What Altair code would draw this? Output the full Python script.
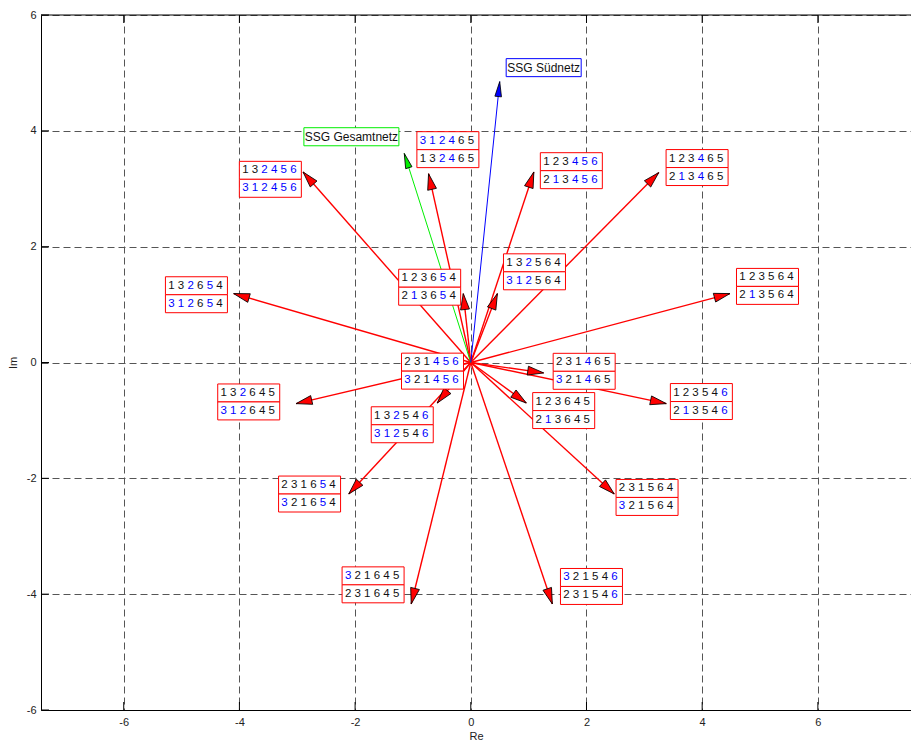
import altair as alt
import numpy as np
import pandas as pd

# Permutation pairs shown next to each arrow (upper box / lower box)
perm_upper = ["132456", "312465", "132654", "123654", "123456", "123465",
              "231456", "132645", "132546", "132564", "231465", "123645",
              "123546", "123564", "231654", "321645", "231564", "321546"]
perm_lower = ["312456", "132465", "312654", "213654", "213456", "213465",
              "321456", "312645", "312546", "312564", "321465", "213645",
              "213546", "213564", "321654", "231645", "321564", "231546"]
# 1 marks a digit printed in blue, 0 a digit printed in black
blue_upper = ["001111", "111100", "001010", "000010", "000111", "000100",
              "000111", "001000", "001001", "001000", "000100", "000000",
              "000001", "000000", "000010", "100000", "000000", "100001"]
blue_lower = ["111111", "001100", "111010", "010010", "010111", "010100",
              "100111", "111000", "111001", "111000", "100100", "010000",
              "010001", "010000", "100010", "000000", "100000", "000001"]

# Arrow tips in the complex plane
tip_re = [-2.90, -0.73, -4.10, -0.13, 1.09, 3.25, -0.92, -3.02, -0.58,
          0.46, 1.26, 0.96, 3.38, 4.48, -2.11, -1.03, 2.48, 1.41]
tip_im = [3.29, 3.26, 1.19, 1.19, 3.29, 3.28, -0.18, -0.71, -0.70,
          1.19, -0.18, -0.70, -0.71, 1.19, -2.27, -4.17, -2.27, -4.17]
# Where each pair of permutation labels is placed (centre of the pair)
lab_re = [-3.465, -0.396, -4.743, -0.711, 1.738, 3.912, -0.662, -3.839, -1.185,
          1.101, 1.960, 1.606, 3.986, 5.129, -2.787, -1.689, 3.047, 2.086]
lab_im = [3.163, 3.675, 1.170, 1.300, 3.312, 3.366, -0.149, -0.681, -1.075,
          1.566, -0.152, -0.830, -0.674, 1.314, -2.271, -3.839, -2.330, -3.867]

# Resulting vectors of the two networks
net_name = ["SSG Gesamtnetz", "SSG Südnetz"]
net_re = [-1.15, 0.50]
net_im = [3.61, 4.85]
net_lab_re = [-2.064, 1.260]
net_lab_im = [3.898, 5.091]

axis_ticks = [-6, -4, -2, 0, 2, 4, 6]

W, H = 870, 695
xs = alt.Scale(domain=[-7.43, 7.61], nice=False, zero=False)
ys = alt.Scale(domain=[-6, 6], nice=False, zero=False)
FONT = "Liberation Sans"


def heading(re, im):
    return (np.degrees(np.arctan2(re, im)) + 360.0) % 360.0


arrows = pd.DataFrame({"re": tip_re, "im": tip_im})
arrows["o"] = 0.0
arrows["angle"] = heading(arrows["re"], arrows["im"])

labels = pd.DataFrame({"re": lab_re, "im": lab_im})

digit_rows = []
for k in range(len(perm_upper)):
    for row, perm, mask in (("upper", perm_upper[k], blue_upper[k]),
                            ("lower", perm_lower[k], blue_lower[k])):
        for i, ch in enumerate(perm):
            digit_rows.append({
                "re": lab_re[k], "im": lab_im[k], "row": row, "pos": i,
                "ch": ch, "ink": "#0000ff" if mask[i] == "1" else "#111111",
            })
digits = pd.DataFrame(digit_rows)

nets = pd.DataFrame({"name": net_name, "re": net_re, "im": net_im,
                     "lre": net_lab_re, "lim": net_lab_im})
nets["o"] = 0.0
nets["angle"] = heading(nets["re"], nets["im"])

ticks = pd.DataFrame({"v": axis_ticks})

common_axis = dict(
    values=axis_ticks, grid=True, gridDash=[7, 4], gridColor="#555555",
    gridWidth=1, ticks=False, tickSize=0, domainColor="#000000",
    domainWidth=1, labelFont=FONT, labelFontSize=11, labelColor="#222222",
    titleFont=FONT, titleFontSize=11, titleFontWeight="normal",
    titleColor="#222222", labelExpr="'' + datum.value",
)
# One identical axis definition per channel, shared by every layer
x_axis = alt.Axis(title="Re", labelPadding=6, titlePadding=3, **common_axis)
y_axis = alt.Axis(title="Im", labelPadding=5, titlePadding=8, **common_axis)


def X(f):
    return alt.X(f, scale=xs, axis=x_axis, title="Re")


def Y(f):
    return alt.Y(f, scale=ys, axis=y_axis, title="Im")


# Red vectors
shafts = alt.Chart(arrows).mark_rule(color="#ff0000", strokeWidth=1.4).encode(
    x=X("o:Q"), y=Y("o:Q"), x2="re:Q", y2="im:Q",
)

HEAD = "M0,0L0.28,1L-0.28,1Z"
heads = alt.Chart(arrows).mark_point(
    shape=HEAD, size=1024, filled=True, fill="#ff0000", stroke="#000000",
    strokeWidth=0.8, opacity=1,
).encode(x=X("re:Q"), y=Y("im:Q"), angle=alt.Angle("angle:Q", scale=None))

net_colors = alt.Scale(domain=net_name, range=["#00ee00", "#0000ff"])
net_shafts = alt.Chart(nets).mark_rule(strokeWidth=1).encode(
    x=X("o:Q"), y=Y("o:Q"), x2="re:Q", y2="im:Q",
    color=alt.Color("name:N", scale=net_colors, legend=None),
)
net_heads = alt.Chart(nets).mark_point(
    shape="M0,0L0.22,1L-0.22,1Z", size=900, filled=True, stroke="#000000",
    strokeWidth=0.8, opacity=1,
).encode(
    x=X("re:Q"), y=Y("im:Q"), angle=alt.Angle("angle:Q", scale=None),
    fill=alt.Fill("name:N", scale=net_colors, legend=None),
)

# Framed label boxes (upper and lower row of each pair)
box_style = dict(size=3844, filled=True, fill="#ffffff", stroke="#ff0000",
                 strokeWidth=1, opacity=1)
box_up = alt.Chart(labels).mark_point(
    shape="M-1,-0.58L1,-0.58L1,0L-1,0Z", **box_style
).encode(x=X("re:Q"), y=Y("im:Q"))
box_lo = alt.Chart(labels).mark_point(
    shape="M-1,0L1,0L1,0.58L-1,0.58Z", **box_style
).encode(x=X("re:Q"), y=Y("im:Q"))

digit_layers = []
for row, dy in (("upper", -9), ("lower", 9)):
    for i in range(6):
        digit_layers.append(
            alt.Chart(digits).transform_filter(
                f"datum.row == '{row}' && datum.pos == {i}"
            ).mark_text(
                font=FONT, fontSize=11.5, align="center", baseline="middle",
                dx=(i - 2.5) * 9.6 - 1, dy=dy,
            ).encode(
                x=X("re:Q"), y=Y("im:Q"), text="ch:N",
                color=alt.Color("ink:N", scale=None),
            )
        )

net_box_g = alt.Chart(nets).transform_filter(
    "datum.name == 'SSG Gesamtnetz'"
).mark_point(
    shape="M-1,-0.19L1,-0.19L1,0.19L-1,0.19Z", size=9025, filled=True,
    fill="#ffffff", stroke="#00ee00", strokeWidth=1, opacity=1,
).encode(x=X("lre:Q"), y=Y("lim:Q"))
net_box_s = alt.Chart(nets).transform_filter(
    "datum.name == 'SSG Südnetz'"
).mark_point(
    shape="M-1,-0.24L1,-0.24L1,0.24L-1,0.24Z", size=5625, filled=True,
    fill="#ffffff", stroke="#0000ff", strokeWidth=1, opacity=1,
).encode(x=X("lre:Q"), y=Y("lim:Q"))
net_text = alt.Chart(nets).mark_text(
    font=FONT, fontSize=12, align="center", baseline="middle", color="#111111"
).encode(x=X("lre:Q"), y=Y("lim:Q"), text="name:N")

# Frame: top edge and inward tick marks
one = pd.DataFrame({"a": [0]})
top_edge = alt.Chart(one).mark_rule(color="#000000", strokeWidth=1).encode(
    x=alt.value(0), x2=alt.value(W), y=alt.value(0)
)
tick_len = 8
left_ticks = alt.Chart(ticks).mark_rule(color="#000000").encode(
    y=Y("v:Q"), x=alt.value(0), x2=alt.value(tick_len)
)
bottom_ticks = alt.Chart(ticks).mark_rule(color="#000000").encode(
    x=X("v:Q"), y=alt.value(H), y2=alt.value(H - tick_len)
)
top_ticks = alt.Chart(ticks).mark_rule(color="#000000").encode(
    x=X("v:Q"), y=alt.value(0), y2=alt.value(tick_len)
)

chart = alt.layer(
    shafts, top_edge, left_ticks, bottom_ticks, top_ticks,
    net_shafts, net_heads, heads, box_up, box_lo, *digit_layers,
    net_box_g, net_box_s, net_text,
).properties(
    width=W, height=H, autosize="none",
    padding={"left": 41, "top": 15, "right": 0, "bottom": 30},
    background="#ffffff",
).configure_view(stroke=None)

chart.save("out.html", embed_options={"renderer": "svg", "actions": False})
